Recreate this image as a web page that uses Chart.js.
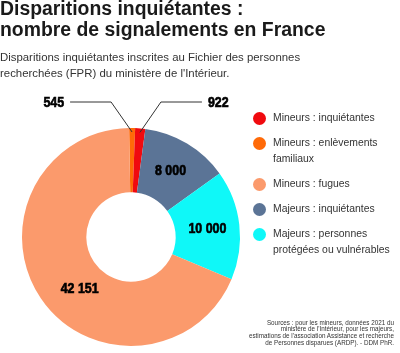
<!DOCTYPE html>
<html>
<head>
<meta charset="utf-8">
<script src="https://cdn.jsdelivr.net/npm/chart.js@4"></script>
<style>
  body { margin: 0; background: #fff; }
  .page { position: relative; width: 400px; height: 353px; overflow: hidden; font-family: "Liberation Sans", Arial, sans-serif; color: #222; }
  .title { position: absolute; left: 0; top: -2px; font-size: 19.4px; line-height: 21px; font-weight: bold; color: #1a1a1a; white-space: nowrap; }
  .subtitle { position: absolute; left: 0; top: 49px; font-size: 11.4px; line-height: 16px; color: #333; white-space: nowrap; }
  .chart-box { position: absolute; left: 0; top: 0; width: 400px; height: 353px; }
  .legend { position: absolute; left: 253px; top: 110px; display: flex; flex-direction: column; gap: 9px; }
  .legend-item { display: flex; align-items: flex-start; }
  .legend-dot { width: 13px; height: 13px; border-radius: 50%; margin-top: 1.5px; flex: none; }
  .legend-text { margin-left: 7px; width: 132px; font-size: 10.4px; line-height: 16px; color: #333; }
  .sources { position: absolute; right: 6px; top: 319.6px; font-size: 6.3px; line-height: 6.7px; text-align: right; color: #333; white-space: nowrap; }
</style>
</head>
<body>
<div class="page">
  <div class="chart-box"><canvas id="myChart"></canvas></div>
  <div class="title">Disparitions inquiétantes :<br>nombre de signalements en France</div>
  <div class="subtitle">Disparitions inquiétantes inscrites au Fichier des personnes<br>recherchées (FPR) du ministère de l'Intérieur.</div>
  <div class="legend"></div>
  <div class="sources">Sources : pour les mineurs, données 2021 du<br>ministère de l'Intérieur, pour les majeurs,<br>estimations de l'association Assistance et recherche<br>de Personnes disparues (ARDP). - DDM PhR.</div>
</div>
<script>
/******************************************* data **/
// legend order
const categories = [
  "Mineurs : inquiétantes",
  "Mineurs : enlèvements familiaux",
  "Mineurs : fugues",
  "Majeurs : inquiétantes",
  "Majeurs : personnes protégées ou vulnérables",
];
const values = [922, 545, 42151, 8000, 10000];
const valueLabels = ["922", "545", "42 151", "8 000", "10 000"];
const colors = ["#f00a0f", "#ff6a08", "#fb9a6c", "#5b7496", "#0ff8f8"];

// slices clockwise from the top of the ring
const drawOrder = [1, 0, 3, 4, 2];

/******************************************* dom selectors **/
const legendBox = document.querySelector(".legend");
const ctx = document.getElementById("myChart");

// html legend
categories.forEach((name, i) => {
  legendBox.innerHTML += `<div class="legend-item"><div class="legend-dot" style="background:${colors[i]}"></div><div class="legend-text">${name}</div></div>`;
});

// condensed look for the numbers: bold font squeezed sideways
const numberFont = "bold 15.5px 'Liberation Sans', Arial, sans-serif";
const squeeze = 0.8;

function drawNumber(c, text, x, y, align) {
  c.save();
  c.translate(x, y);
  c.scale(squeeze, 1);
  c.textAlign = align;
  c.lineWidth = 0.7;
  c.strokeStyle = "#000";
  c.strokeText(text, 0, 0);
  c.fillText(text, 0, 0);
  c.restore();
}

// value labels: inside slices, or with a leader line for the tiny ones
const sliceLabels = {
  id: "sliceLabels",
  afterDatasetsDraw(chart) {
    const c = chart.ctx;
    const arcs = chart.getDatasetMeta(0).data;
    c.save();
    c.font = numberFont;
    c.fillStyle = "#000";
    c.textBaseline = "middle";
    arcs.forEach((arc, k) => {
      const i = drawOrder[k];
      const p = arc.getProps(["x", "y", "startAngle", "endAngle", "innerRadius", "outerRadius"], true);
      const mid = (p.startAngle + p.endAngle) / 2;
      if (values[i] < 2000) {
        // leader line
        const side = mid > -Math.PI / 2 + 0.05 ? 1 : -1;
        const ax = p.x + Math.cos(mid) * (p.outerRadius - 4);
        const ay = p.y + Math.sin(mid) * (p.outerRadius - 4);
        const ex = ax + side * 21;
        const ey = p.y - p.outerRadius - 26;
        const hx = ex + side * 41;
        c.strokeStyle = "#333";
        c.lineWidth = 1;
        c.beginPath();
        c.moveTo(ax, ay);
        c.lineTo(ex, ey);
        c.lineTo(hx, ey);
        c.stroke();
        drawNumber(c, valueLabels[i], hx + side * 6, ey + 1, side > 0 ? "left" : "right");
      } else {
        let a = mid;
        let r = (p.innerRadius + p.outerRadius) / 2;
        if (values[i] > 30000) {
          // big slice: label sits lower left
          a = p.startAngle + (p.endAngle - p.startAngle) * 0.455;
          r = r - 4;
        }
        drawNumber(c, valueLabels[i], p.x + Math.cos(a) * r, p.y + Math.sin(a) * r, "center");
      }
    });
    c.restore();
  },
};

new Chart(ctx, {
  type: "doughnut",
  data: {
    labels: drawOrder.map((i) => categories[i]),
    datasets: [
      {
        data: drawOrder.map((i) => values[i]),
        backgroundColor: drawOrder.map((i) => colors[i]),
        borderWidth: 0,
      },
    ],
  },
  options: {
    responsive: true,
    maintainAspectRatio: false,
    animation: false,
    rotation: -1,
    cutout: "41%",
    layout: {
      padding: { left: 22, top: 128, right: 160, bottom: 7 },
    },
    plugins: {
      legend: { display: false },
      tooltip: { enabled: false },
    },
  },
  plugins: [sliceLabels],
});
</script>
</body>
</html>
